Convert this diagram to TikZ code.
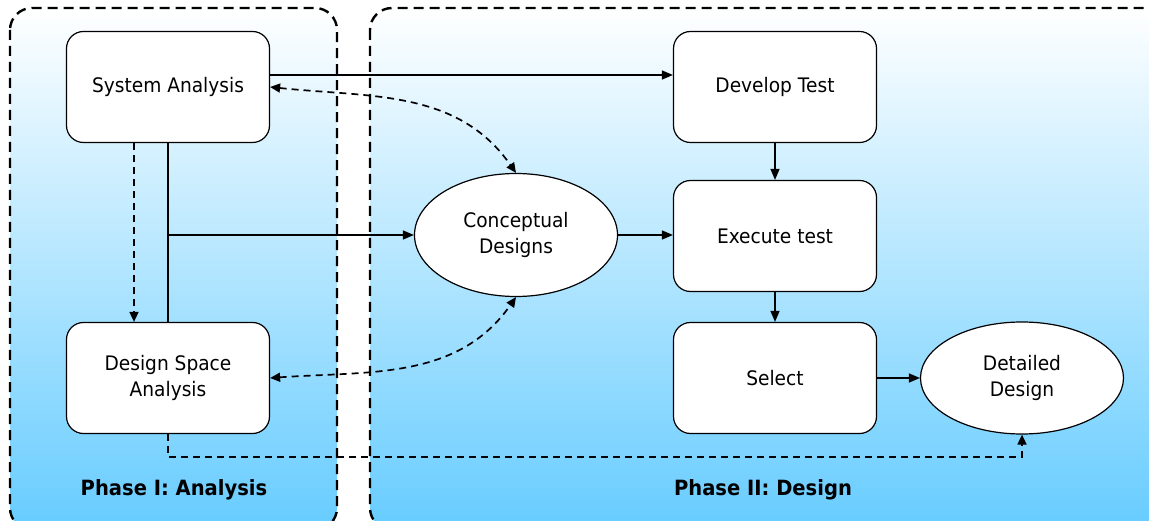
\documentclass[tikz,border=0pt]{standalone}
\usepackage{fontspec}
\setmainfont{DejaVu Sans}[FakeStretch=0.93]
\usepackage{tikz}
\usetikzlibrary{arrows.meta,shapes.geometric}

\definecolor{phaseblue}{RGB}{102,204,255}
\definecolor{phasemid}{RGB}{200,233,253}

\begin{document}
\begin{tikzpicture}[x=1pt, y=-1pt,
    font=\fontsize{20}{26}\selectfont,
    phase/.style={dashed, line width=2.4pt, dash pattern=on 10pt off 6pt,
        rounded corners=22pt, top color=white, middle color=phasemid, bottom color=phaseblue},
    stage/.style={draw, line width=1.2pt, fill=white, rounded corners=17pt,
        minimum width=203pt, minimum height=111pt, align=center},
    result/.style={draw, line width=1.2pt, fill=white, ellipse,
        minimum width=203pt, align=center, inner sep=0pt},
    flow/.style={line width=1.4pt, -{Triangle[length=11pt,width=9pt]}},
    link/.style={line width=1.4pt},
    hint/.style={line width=1.7pt, dash pattern=on 7pt off 5pt},
    hintone/.style={hint, -{Triangle[length=10pt,width=9pt]}},
    hinttwo/.style={hint, {Triangle[length=10pt,width=9pt]}-{Triangle[length=10pt,width=9pt]}},
    phaselabel/.style={font=\fontsize{21}{26}\selectfont\bfseries}]
                \useasboundingbox (0,0) rectangle (1149,521);
                \clip (0,0) rectangle (1149,521);
                % the two phases
                \draw[phase] (10,8) rectangle (337,530);
                \draw[phase] (370,8) rectangle (1180,530);
                \node[phaselabel] (labelone) at (174,490) {Phase I: Analysis};
                \node[phaselabel] (labeltwo) at (763,490) {Phase II: Design};
                % stages
                \node[stage] (sysan) at (168,87) {System Analysis};
                \node[stage] (dsa) at (168,378) {Design Space\\Analysis};
                \node[result, minimum height=123pt] (concept) at (516,235) {Conceptual\\Designs};
                \node[stage] (devtest) at (775,87) {Develop Test};
                \node[stage] (exectest) at (775,236) {Execute test};
                \node[stage] (select) at (775,378) {Select};
                \node[result, minimum height=112pt] (detailed) at (1022,378) {Detailed\\Design};
                % connectors
                \draw[flow] ([yshift=12pt]sysan.east) -- ([yshift=12pt]devtest.west);
                \draw[link] (sysan.south) -- (dsa.north);
                \draw[flow] (sysan.south |- concept.west) -- (concept.west);
                \draw[hintone] ([xshift=-34pt]sysan.south) -- ([xshift=-34pt]dsa.north);
                \draw[hinttwo] (sysan.east) to[out=-6, in=125] (concept.north);
                \draw[hinttwo] (dsa.east) to[out=4, in=-125] (concept.south);
                \draw[flow] (concept.east) -- (exectest.west |- concept.east);
                \draw[flow] (devtest) -- (exectest);
                \draw[flow] (exectest) -- (select);
                \draw[flow] (select.east) -- (detailed.west);
                \draw[hintone] (dsa.south) -- ++(0,23) -| (detailed.south);
            \end{tikzpicture}
\end{document}
